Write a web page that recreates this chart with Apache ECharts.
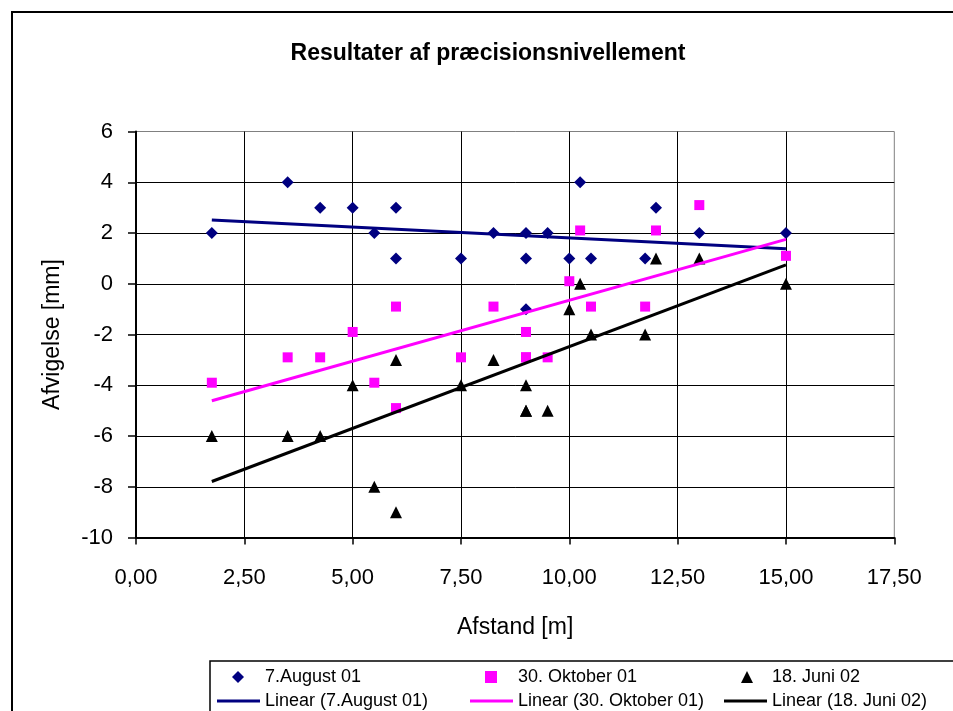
<!DOCTYPE html>
<html><head><meta charset="utf-8">
<script src="https://cdn.jsdelivr.net/npm/echarts@6/dist/echarts.min.js"></script>
<style>html,body{margin:0;padding:0;background:#fff}#c{width:953px;height:711px}</style>
</head><body><div id="c"></div>
<script>
const chartTitle = 'Resultater af præcisionsnivellement';
const xAxisName = 'Afstand [m]';
const yAxisName = 'Afvigelse [mm]';
const seriesNames = ['7.August 01', '30. Oktober 01', '18. Juni 02'];
const trendNames = ['Linear (7.August 01)', 'Linear (30. Oktober 01)', 'Linear (18. Juni 02)'];

// 7.August 01
const augX = [1.75, 3.5, 4.25, 5, 5.5, 6, 6, 7.5, 8.25, 9, 9, 9, 9.5, 10, 10.25, 10.5, 11.75, 12, 13, 15];
const augY = [2, 4, 3, 3, 2, 3, 1, 1, 2, 2, 1, -1, 2, 1, 4, 1, 1, 3, 2, 2];
// 30. Oktober 01
const oktX = [1.75, 3.5, 4.25, 5, 5.5, 6, 6, 7.5, 8.25, 9, 9, 9, 9.5, 10, 10.25, 10.5, 11.75, 12, 13, 15];
const oktY = [-3.9, -2.9, -2.9, -1.9, -3.9, -0.9, -4.9, -2.9, -0.9, -1.9, -2.9, -2.9, -2.9, 0.1, 2.1, -0.9, -0.9, 2.1, 3.1, 1.1];
// 18. Juni 02
const junX = [1.75, 3.5, 4.25, 5, 5.5, 6, 6, 7.5, 8.25, 9, 9, 9, 9.5, 10, 10.25, 10.5, 11.75, 12, 13, 15];
const junY = [-6, -6, -6, -4, -8, -9, -3, -4, -3, -4, -5, -5, -5, -1, 0, -2, -2, 1, 1, 0];

const xTicks = { min: 0, max: 17.5, interval: 2.5 };
const yTicks = { min: -10, max: 6, interval: 2 };

const colors = ['#000080', '#FF00FF', '#000000'];
const symbols = ['diamond', 'rect', 'triangle'];
const symbolSizes = [12, 10, 12];
const FONT = '"Liberation Sans", Arial, sans-serif';

function pairs(xs, ys) { return xs.map((x, i) => [x, ys[i]]); }
function trend(xs, ys) {
  const n = xs.length;
  const mx = xs.reduce((a, b) => a + b, 0) / n;
  const my = ys.reduce((a, b) => a + b, 0) / n;
  let sxy = 0, sxx = 0;
  for (let i = 0; i < n; i++) { sxy += (xs[i] - mx) * (ys[i] - my); sxx += (xs[i] - mx) * (xs[i] - mx); }
  const b = sxy / sxx, a = my - b * mx;
  const x0 = Math.min(...xs), x1 = Math.max(...xs);
  return [[x0, a + b * x0], [x1, a + b * x1]];
}

const sets = [[augX, augY], [oktX, oktY], [junX, junY]];
const series = [];
sets.forEach((s, i) => {
  series.push({
    name: seriesNames[i], type: 'scatter', data: pairs(s[0], s[1]),
    symbol: symbols[i], symbolSize: symbolSizes[i],
    itemStyle: { color: colors[i], opacity: 1 }, z: 3 + i
  });
});
sets.forEach((s, i) => {
  series.push({
    name: trendNames[i], type: 'line', data: trend(s[0], s[1]),
    symbol: 'none', showSymbol: false,
    lineStyle: { color: colors[i], width: 3 }, itemStyle: { color: colors[i] },
    z: 6 + i, silent: true
  });
});

const iconCenters = [238, 491, 747];
const textStarts = [265, 518, 772];
const legends = [];
seriesNames.forEach((n, i) => {
  legends.push({
    left: iconCenters[i] - 6, top: 668, padding: 0, itemWidth: 12, itemHeight: 12,
    data: [n], selectedMode: false,
    textStyle: { fontFamily: FONT, fontSize: 18, color: '#000', padding: [0, 0, 0, textStarts[i] - iconCenters[i] - 11] }
  });
});
trendNames.forEach((n, i) => {
  legends.push({
    left: textStarts[i] - 48, top: 692, padding: 0, itemWidth: 43, itemHeight: 3,
    data: [{ name: n, icon: 'rect' }], selectedMode: false,
    itemStyle: { color: colors[i] },
    textStyle: { fontFamily: FONT, fontSize: 18, color: '#000' }
  });
});

const chart = echarts.init(document.getElementById('c'), null, { renderer: 'canvas' });
chart.setOption({
  animation: false,
  backgroundColor: '#fff',
  title: {
    text: chartTitle, left: 488, textAlign: 'center', top: 42, padding: 0,
    textStyle: { fontFamily: FONT, fontSize: 23, fontWeight: 'bold', color: '#000' }
  },
  legend: legends,
  grid: { left: 136, right: 58.7, top: 131.5, bottom: 173.5, show: true, borderColor: '#808080', borderWidth: 1, backgroundColor: 'transparent' },
  xAxis: {
    type: 'value', min: xTicks.min, max: xTicks.max, interval: xTicks.interval,
    name: xAxisName, nameLocation: 'middle', nameGap: 79,
    nameTextStyle: { fontFamily: FONT, fontSize: 23, color: '#000' },
    axisLine: { show: true, onZero: false, lineStyle: { color: '#000', width: 2 } },
    axisTick: { show: true, length: 7, lineStyle: { color: '#000', width: 1.5 } },
    axisLabel: { margin: 29, fontFamily: FONT, fontSize: 22, color: '#000', formatter: v => v.toFixed(2).replace('.', ',') },
    splitLine: { show: true, showMaxLine: false, lineStyle: { color: '#000', width: 1 } }
  },
  yAxis: {
    type: 'value', min: yTicks.min, max: yTicks.max, interval: yTicks.interval,
    name: yAxisName, nameLocation: 'middle', nameGap: 72, nameRotate: 90,
    nameTextStyle: { fontFamily: FONT, fontSize: 23, color: '#000' },
    axisLine: { show: true, onZero: false, lineStyle: { color: '#000', width: 2 } },
    axisTick: { show: true, length: 8, lineStyle: { color: '#000', width: 1.5 } },
    axisLabel: { margin: 23, fontFamily: FONT, fontSize: 22, color: '#000' },
    splitLine: { show: true, showMaxLine: false, lineStyle: { color: '#000', width: 1 } }
  },
  graphic: [
    { type: 'rect', z: -10, silent: true, shape: { x: 12, y: 12, width: 1000, height: 800 }, style: { fill: 'none', stroke: '#000', lineWidth: 2 } },
    { type: 'rect', z: -10, silent: true, shape: { x: 210, y: 661, width: 800, height: 100 }, style: { fill: 'none', stroke: '#000', lineWidth: 1.5 } }
  ],
  series: series
});
</script></body></html>
